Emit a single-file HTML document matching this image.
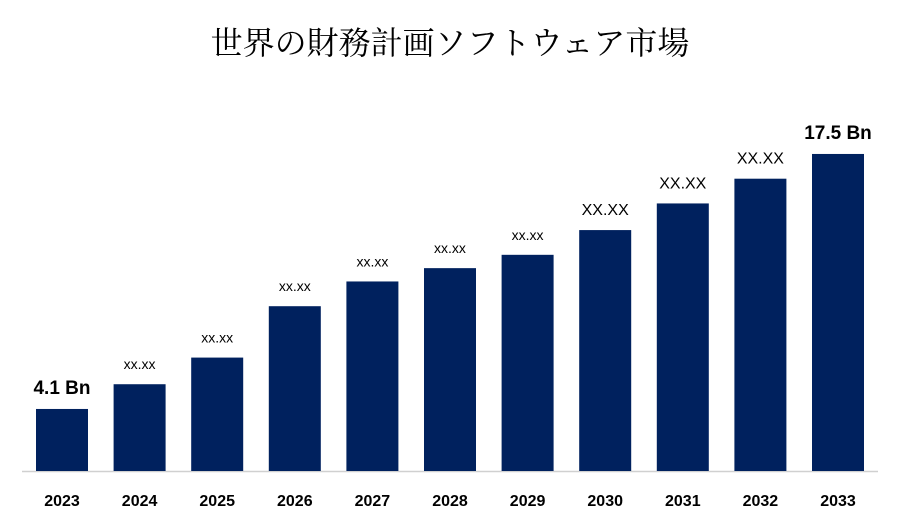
<!DOCTYPE html>
<html><head><meta charset="utf-8">
<style>
html,body{margin:0;padding:0;background:#fff;width:900px;height:525px;overflow:hidden}
svg{display:block}
</style></head>
<body>
<svg id="chart" width="900" height="525" xmlns="http://www.w3.org/2000/svg">
<text x="450" y="54" text-anchor="middle" font-family="'Liberation Serif','Noto Serif CJK SC','Noto Sans CJK JP',serif" font-size="32" fill="#000">世界の財務計画ソフトウェア市場</text>
<line x1="22" y1="471.5" x2="878" y2="471.5" stroke="#d0d0d0" stroke-width="1.5"/>
<g id="bars"></g>
</svg>
<script>
const categories = ["2023","2024","2025","2026","2027","2028","2029","2030","2031","2032","2033"];
const values = [4.1, 5.4, 6.8, 9.5, 10.8, 11.5, 12.2, 13.5, 14.9, 16.2, 17.5];
const valueLabels = ["4.1 Bn","xx.xx","xx.xx","xx.xx","xx.xx","xx.xx","xx.xx","XX.XX","XX.XX","XX.XX","17.5 Bn"];
const labelSizes = ["big","small","small","small","small","small","small","mid","mid","mid","big"];

const baseY = 471;
const pxPerUnit = 19.03;
const domainMin = 0.84;
function yScale(v){ return baseY - (v - domainMin) * pxPerUnit; }
function xScale(i){ return 36 + i * 77.6; }
const barW = 52;
const ns = "http://www.w3.org/2000/svg";
const g = document.getElementById("bars");
const font = "'Liberation Sans',sans-serif";
categories.forEach((c,i)=>{
  const x = xScale(i), y = yScale(values[i]);
  const r = document.createElementNS(ns,"rect");
  
  
  r.setAttribute("x", x); r.setAttribute("y", y);
  r.setAttribute("width", barW); r.setAttribute("height", baseY - y);
  r.setAttribute("fill", "#00215e");
  g.appendChild(r);
  const t = document.createElementNS(ns,"text");
  
  
  const s = labelSizes[i];
  const fs = s==="big" ? 19 : (s==="mid" ? 16 : 14);
  t.setAttribute("x", x + barW/2);
  t.setAttribute("y", y - (s==="big" ? 15 : 15));
  t.setAttribute("text-anchor","middle");
  t.setAttribute("font-family", font);
  t.setAttribute("font-size", fs);
  if (s==="big") t.setAttribute("font-weight","bold");
  t.setAttribute("fill","#000");
  t.textContent = valueLabels[i];
  g.appendChild(t);
  const yl = document.createElementNS(ns,"text");
  
  
  yl.setAttribute("x", x + barW/2); yl.setAttribute("y", 506);
  yl.setAttribute("text-anchor","middle");
  yl.setAttribute("font-family", font);
  yl.setAttribute("font-size", 16);
  yl.setAttribute("font-weight","bold");
  yl.setAttribute("fill","#000");
  yl.textContent = c;
  g.appendChild(yl);
});
</script>
</body></html>
